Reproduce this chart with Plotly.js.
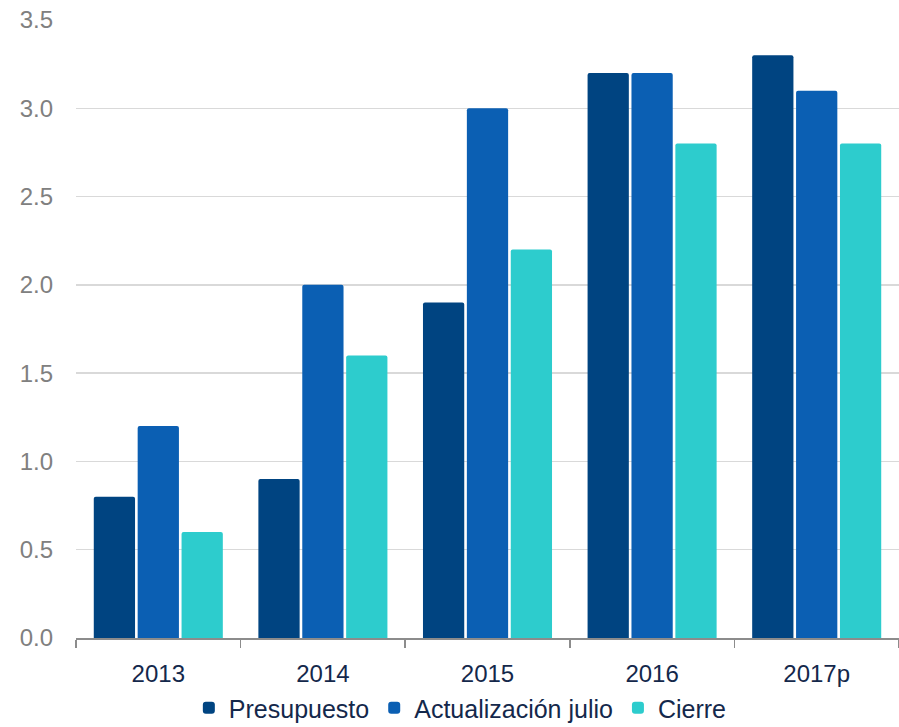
<!DOCTYPE html>
<html>
<head>
<meta charset="utf-8">
<script src="https://cdn.plot.ly/plotly-3.0.1.min.js"></script>
<style>
  html, body { margin: 0; padding: 0; background: #ffffff; }
  #chart { width: 899px; height: 727px; }
</style>
</head>
<body>
<div id="chart"></div>
<script>
// Years shown on the category axis
const years = ['2013', '2014', '2015', '2016', '2017p'];

// Series values
const presupuesto = [0.8, 0.9, 1.9, 3.2, 3.3];
const actualizacionJulio = [1.2, 2.0, 3.0, 3.2, 3.1];
const cierre = [0.6, 1.6, 2.2, 2.8, 2.8];

// Y-axis tick values and labels
const yTickVals = [0, 0.5, 1, 1.5, 2, 2.5, 3, 3.5];
const yTickText = ['0.0', '0.5', '1.0', '1.5', '2.0', '2.5', '3.0', '3.5'];

const seriesNames = ['Presupuesto', 'Actualización julio', 'Cierre'];
const seriesColors = ['#004481', '#0b5fb3', '#2dcccd'];
const seriesValues = [presupuesto, actualizacionJulio, cierre];

const traces = seriesValues.map((vals, i) => ({
  type: 'bar',
  name: seriesNames[i],
  x: years,
  y: vals,
  marker: { color: seriesColors[i], cornerradius: 2, line: { width: 0 } },
  hoverinfo: 'x+y+name'
}));

const layout = {
  width: 899,
  height: 727,
  margin: { l: 76, r: 0, t: 20, b: 89, autoexpand: false },
  paper_bgcolor: '#ffffff',
  plot_bgcolor: '#ffffff',
  font: { family: 'Liberation Sans, Arial, sans-serif' },
  barmode: 'group',
  bargap: 0.2,
  bargroupgap: 0.06,
  showlegend: true,
  legend: {
    orientation: 'h',
    x: 0.467,
    xanchor: 'center',
    xref: 'paper',
    yref: 'container',
    y: 0.026,
    yanchor: 'middle',
    font: { size: 25, color: '#14284b' },
    itemwidth: 30,
    tracegroupgap: 0,
    traceorder: 'normal'
  },
  xaxis: {
    type: 'category',
    showgrid: false,
    showline: true,
    linecolor: '#8c8c8c',
    linewidth: 1.5,
    ticks: 'outside',
    tickson: 'boundaries',
    ticklen: 8,
    tickcolor: '#8c8c8c',
    tickwidth: 1.5,
    tickfont: { size: 24, color: '#14284b' },
    ticklabelstandoff: 14,
    fixedrange: true
  },
  yaxis: {
    range: [0, 3.5],
    tickvals: yTickVals,
    ticktext: yTickText,
    showgrid: true,
    gridcolor: '#d9d9d9',
    gridwidth: 1.5,
    zeroline: false,
    showline: false,
    ticks: '',
    tickfont: { size: 24, color: '#808080' },
    ticklabelstandoff: 22,
    fixedrange: true
  }
};

Plotly.newPlot('chart', traces, layout, { displayModeBar: false, staticPlot: true });
</script>
</body>
</html>
